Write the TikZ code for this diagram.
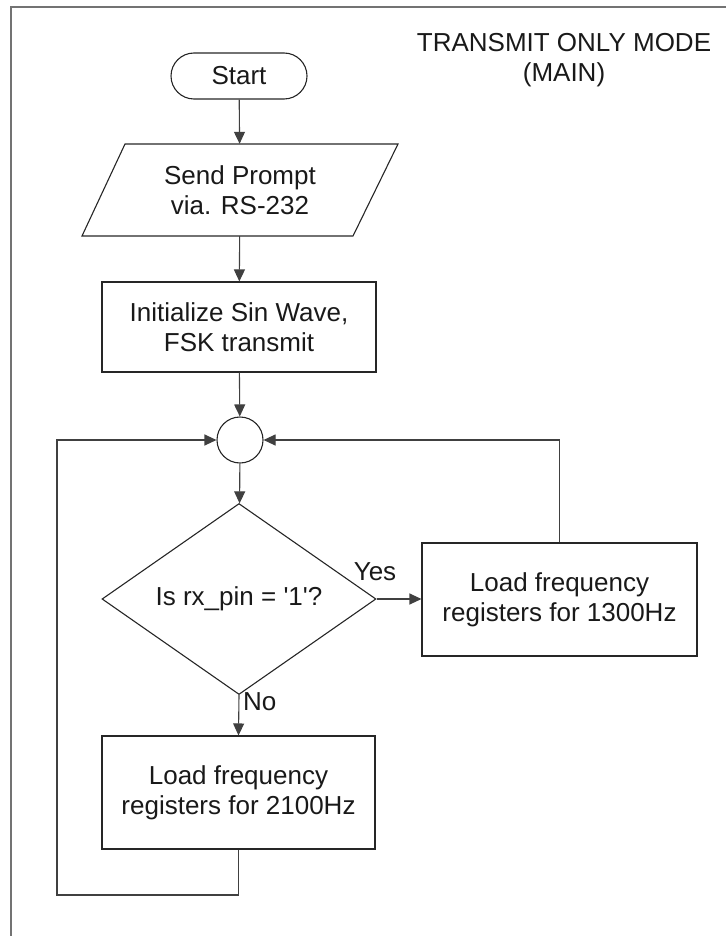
\documentclass[tikz,border=0pt]{standalone}
\usepackage{fontspec}
\setmainfont{Liberation Sans}
\usetikzlibrary{shapes.geometric,arrows.meta}
\begin{document}
\begin{tikzpicture}[x=1pt,y=-1pt,
 every node/.style={font=\fontsize{26}{30}\selectfont, align=center, inner sep=0pt, text=black!90},
 boxline/.style={draw=black!85, line width=1.1pt},
 procbox/.style={boxline, rectangle},
 conn/.style={draw=black!75, line width=1.1pt, -{Triangle[length=12pt,width=11pt]}},
 frameline/.style={draw=black!55, line width=2pt}]
\useasboundingbox (0,0) rectangle (726,936);
\draw[frameline] (11,936) -- (11,7) -- (726,7);
\node (title) at (564,60) {TRANSMIT ONLY MODE\\(MAIN)};
\node[boxline, rectangle, rounded corners=23pt, minimum width=136pt, minimum height=46pt] (start) at (239,76) {Start};
\node[minimum width=273pt, minimum height=92pt] (io) at (240,190) {Send Prompt\\via. RS-232};
\draw[boxline] (125,144) -- (398,144) -- (353,236) -- (82,236) -- cycle;
\node[procbox, minimum width=274pt, minimum height=90pt] (init) at (239,327) {Initialize Sin Wave,\\FSK transmit};
\node[boxline, circle, minimum size=46pt] (join) at (240,440) {};
\node[boxline, diamond, minimum width=274pt, minimum height=181pt] (dec) at (239,599) {Is rx\_pin = \textquotesingle1\textquotesingle?};
\node[procbox, minimum width=275pt, minimum height=113pt] (r1300) at (559.5,599.5) {Load frequency\\registers for 1300Hz};
\node[procbox, minimum width=273pt, minimum height=113pt] (r2100) at (238.5,792.5) {Load frequency\\registers for 2100Hz};
\node (yes) at (375,572) {Yes};
\node[anchor=west] (no) at (243,702) {No};
\coordinate (loopc) at (57,895);
\draw[conn] (start) -- (io);
\draw[conn] (io) -- (init);
\draw[conn] (init) -- (join);
\draw[conn] (join) -- (dec);
\draw[conn] (dec.east) -- (r1300.west |- dec.east);
\draw[conn] (dec.south) -- (r2100.north);
\draw[conn] (r1300.north) |- (join.east);
\draw[conn] (r2100.south) |- (loopc) |- (join.west);
\end{tikzpicture}
\end{document}
